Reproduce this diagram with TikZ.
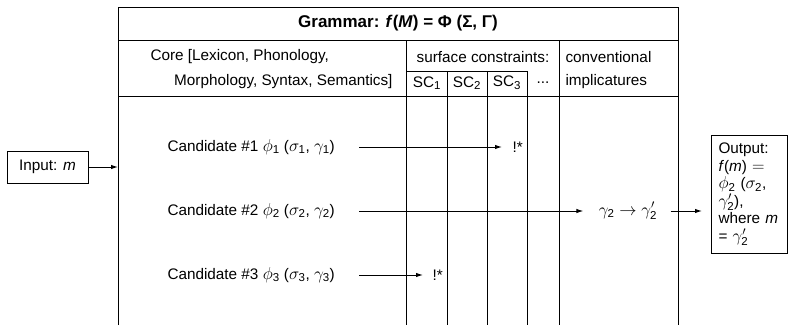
\documentclass[tikz,border=0pt]{standalone}
\usepackage{amsmath}
\usepackage{fontspec}
\setmainfont{Liberation Sans}
\DeclareMathSizes{15.3}{16.5}{11.5}{9}
\usetikzlibrary{arrows.meta}
\begin{document}
\begin{tikzpicture}[x=1pt,y=-1pt,line width=1pt,
  txt/.style={font=\fontsize{15.3}{17.5}\selectfont, inner sep=0pt},
  arr/.style={-{Latex[length=7pt,width=4.5pt]}},
  boxnode/.style={draw, txt, line width=1pt}]
\useasboundingbox (0,0) rectangle (788,325);
% frame of the grammar table
\draw (118,325) -- (118,7) -- (678,7) -- (678,325);
\draw (118,40) -- (678,40);
\draw (118,96) -- (678,96);
\draw (406,40) -- (406,325);
\draw (559,40) -- (559,325);
\draw (406,71) -- (527,71);
\foreach \x in {447,487,527} \draw (\x,71) -- (\x,325);
% header texts
\node[txt, font=\fontsize{17}{19}\selectfont] (title) at (398,23) {\textbf{Grammar: \textit{f}(\textit{M}) = Φ (Σ, Γ)}};
\node[txt, anchor=west] (core1) at (150,57) {Core [Lexicon, Phonology,};
\node[txt, anchor=east] (core2) at (393,82) {Morphology, Syntax, Semantics]};
\node[txt] (sc) at (483,57) {surface constraints:};
\node[txt] (sc1) at (427,83) {SC\textsubscript{1}};
\node[txt] (sc2) at (467,83) {SC\textsubscript{2}};
\node[txt] (sc3) at (507,83) {SC\textsubscript{3}};
\node[txt] (dots) at (543,83) {...};
\node[txt, anchor=west] (conv) at (565,57) {conventional};
\node[txt, anchor=west] (impl) at (565,82) {implicatures};
% candidates
\node[txt, anchor=west] (c1) at (167,147) {Candidate \#1 $\phi_{\text{1}}$ ($\sigma_{\text{1}}$, $\gamma_{\text{1}}$)};
\node[txt, anchor=west] (c2) at (167,211) {Candidate \#2 $\phi_{\text{2}}$ ($\sigma_{\text{2}}$, $\gamma_{\text{2}}$)};
\node[txt, anchor=west] (c3) at (167,275) {Candidate \#3 $\phi_{\text{3}}$ ($\sigma_{\text{3}}$, $\gamma_{\text{3}}$)};
\coordinate (s1) at (359,147);
\coordinate (s2) at (359,211);
\coordinate (s3) at (359,275);
\node[txt, anchor=west] (b1) at (512,147) {!*};
\node[txt, anchor=west] (b3) at (432,275) {!*};
\node[txt] (g2) at (628,211) {$\gamma_{\text{2}}\rightarrow\gamma'_{\text{2}}$};
% input and output
\node[boxnode, minimum width=81pt, minimum height=32pt] (in) at (47.5,167) {Input: \textit{m}};
\coordinate (entry) at (118,167);
\node[boxnode, anchor=north west, align=left, text width=62pt, inner xsep=7pt, minimum height=118pt] (out) at (711,135)
  {Output:\\\textit{f}(\textit{m}) $=$\\$\phi_{\text{2}}$ ($\sigma_{\text{2}}$,\\$\gamma'_{\text{2}}$),\\where \textit{m}\\= $\gamma'_{\text{2}}$};
\coordinate (o2) at (out.west |- g2);
% connectors
\draw[arr] (in) -- (entry);
\draw[arr, shorten >=10pt] (s1) -- (b1.west);
\draw[arr, shorten >=15pt] (s2) -- (g2.west);
\draw[arr, shorten >=9pt] (s3) -- (b3.west);
\draw[arr, shorten <=13pt, shorten >=9pt] (g2.east) -- (o2);
\end{tikzpicture}
\end{document}
